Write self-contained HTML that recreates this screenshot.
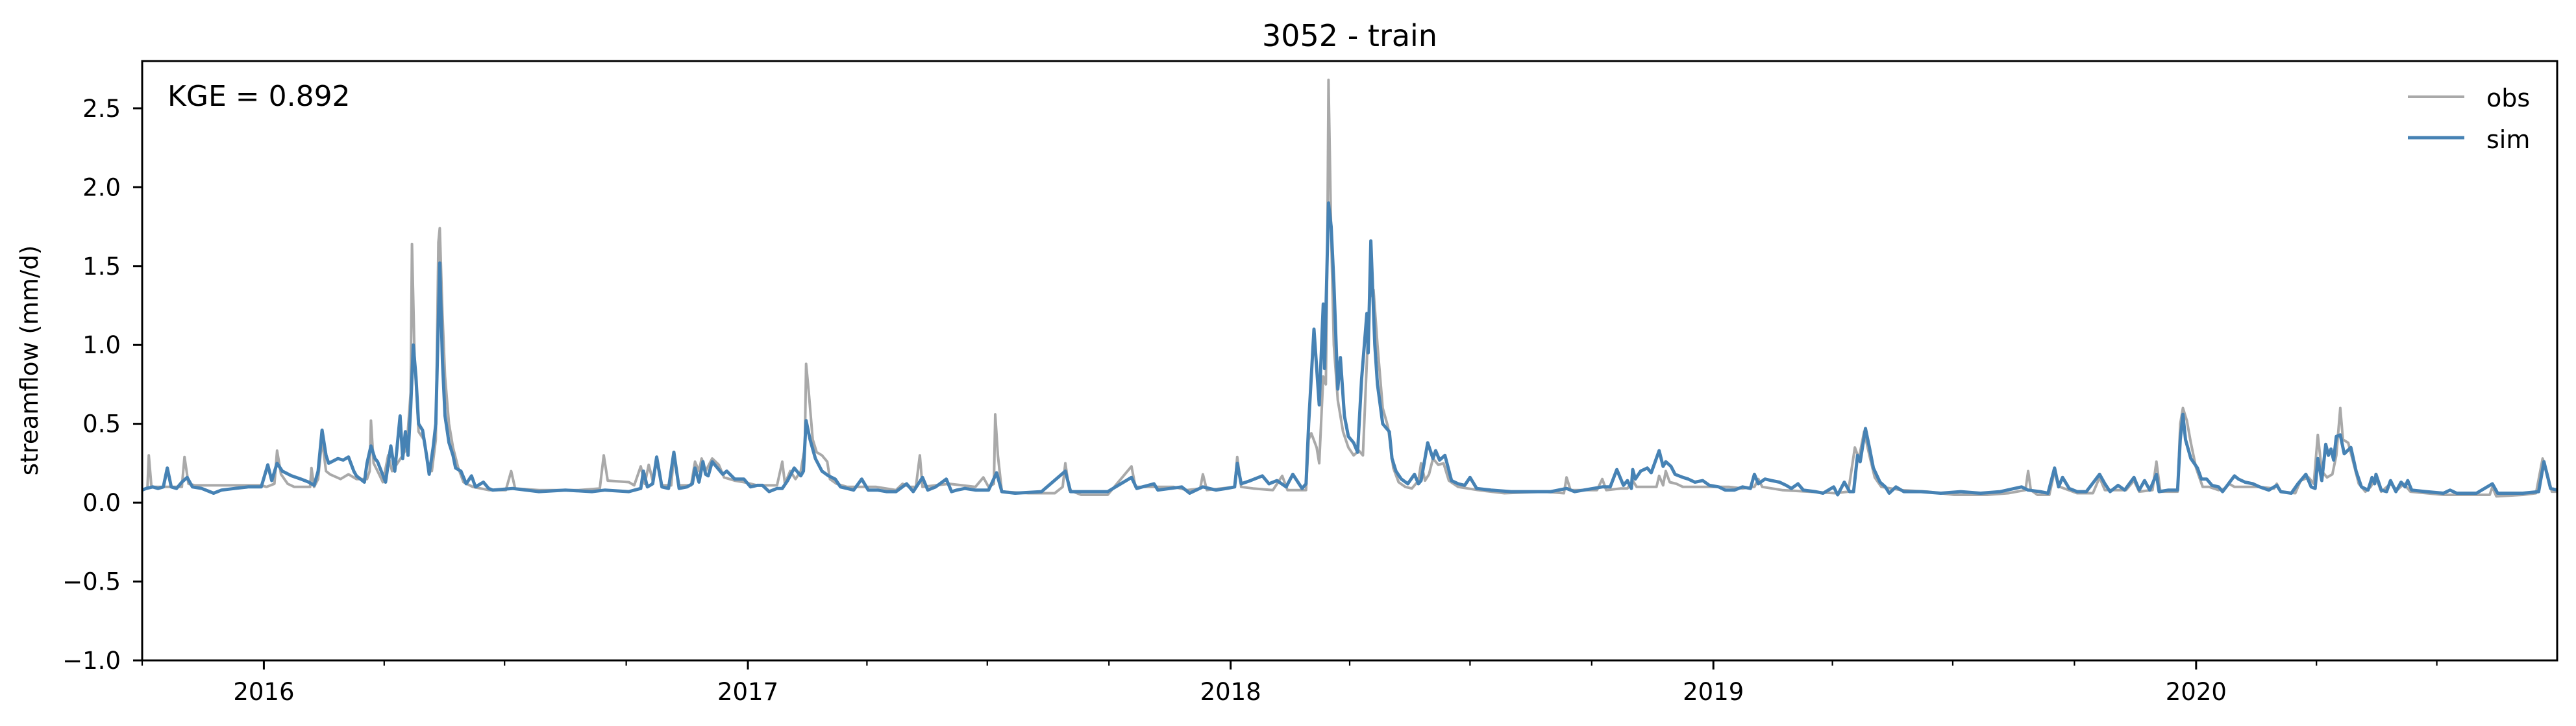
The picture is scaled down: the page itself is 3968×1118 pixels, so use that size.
<!DOCTYPE html>
<html><head><meta charset="utf-8"><style>
html,body{margin:0;padding:0;background:#fff;}
svg{display:block;font-family:"DejaVu Sans","Liberation Sans",sans-serif;}
</style></head><body>
<svg id="chart" width="3968" height="1118" viewBox="0 0 3968 1118" xmlns="http://www.w3.org/2000/svg">
<rect x="0" y="0" width="3968" height="1118" fill="#fff"/>
<text x="2079" y="71" font-size="46" text-anchor="middle">3052 - train</text>
<g id="plot"></g>
<g id="axes"></g>
<text x="258" y="163" font-size="44">KGE = 0.892</text>
<text transform="translate(58,555) rotate(-90)" font-size="37" text-anchor="middle">streamflow (mm/d)</text>
<g>
  <line x1="3709" y1="149" x2="3796" y2="149" stroke="#a9a9a9" stroke-width="4"/>
  <text x="3830" y="164" font-size="38">obs</text>
  <line x1="3709" y1="212" x2="3796" y2="212" stroke="#4682b4" stroke-width="5"/>
  <text x="3830" y="228" font-size="38">sim</text>
</g>
</svg>
<script>
// days since 2015-10-01
const simDays = [0,3,8,12,16,19,22,26,30,34,38,45,54,60,70,80,90,95,98,102,106,113,120,126,130,133,136,139,141,148,152,156,160,162,168,170,173,176,178,184,188,191,195,197,199,201,203,205,207,209,212,215,217,220,222,225,227,229,232,235,237,241,245,249,252,258,262,265,280,300,320,340,350,368,
377,379,382,386,389,393,398,402,406,412,416,418,421,424,426,428,431,435,439,442,448,455,460,465,469,474,480,484,488,493,498,500,502,505,509,514,519,524,528,533,538,544,549,556,563,570,578,583,590,594,600,608,612,616,622,630,640,646,650,660,680,698,702,715,730,
748,752,765,768,786,792,802,812,820,826,828,831,838,847,852,858,865,870,877,880,882,886,890,893,894,897,899,901,904,906,909,912,916,919,922,926,927,929,932,934,938,943,945,948,952,957,962,965,967,972,976,978,981,985,990,995,1000,1004,1009,1020,1035,1050,1065,1077,1083,
1090,1104,1110,1115,1120,1123,1126,1127,1129,1133,1138,1141,1147,1150,1152,1156,1159,1165,1169,1174,1180,1185,1192,1197,1204,1210,1216,1219,1222,1227,1232,1238,1243,1247,1252,1256,1265,1271,1279,1282,1287,1291,1294,1297,1299,1303,1306,1309,1314,1318,1321,1326,1332,1345,1360,1375,1390,1405,1421,1426,1435,1441,1446,1449,1452,1457,1463,
1470,1480,1484,1488,1494,1499,1506,1510,1514,1518,1523,1525,1532,1539,1541,1543,1545,1549,1554,1557,1561,1565,1570,1573,1582,1585,1590,1596,1601,1608,1614,1617,1625,1630,1636,1640,1643,1645,1648,1651,1653,1655,1657,1659,1662,1665,1670,1674,1678,1683,1686,1688,1689,1693,1697,1700,1704,1708,1711,1713,1716,1727,1740,1745,1750,1765,1777,1781,1800,1812,1816,1821,1826];
const simVals = [.08,.09,.1,.09,.1,.22,.1,.09,.13,.16,.1,.09,.06,.08,.09,.1,.1,.24,.14,.25,.2,.17,.15,.13,.11,.2,.46,.3,.25,.28,.27,.29,.2,.17,.13,.25,.36,.28,.26,.13,.36,.2,.55,.28,.45,.3,.6,1.0,.8,.5,.46,.3,.18,.35,.5,1.52,.9,.55,.38,.3,.22,.2,.12,.17,.1,.13,.09,.08,.09,.07,.08,.07,.08,.07,
.09,.2,.1,.12,.29,.1,.09,.32,.09,.1,.12,.22,.13,.26,.18,.17,.26,.22,.18,.2,.15,.15,.1,.11,.11,.07,.09,.09,.14,.22,.17,.2,.52,.4,.28,.2,.17,.15,.1,.09,.08,.15,.08,.08,.07,.07,.12,.07,.16,.08,.1,.15,.07,.08,.09,.08,.08,.19,.07,.06,.07,.2,.07,.07,.07,
.16,.09,.12,.08,.1,.06,.1,.08,.09,.1,.25,.12,.14,.17,.12,.14,.1,.18,.09,.12,.5,1.1,.62,1.26,.85,1.9,1.75,1.4,.72,.92,.55,.42,.38,.32,.78,1.2,.95,1.66,1.0,.75,.5,.45,.28,.2,.15,.12,.18,.12,.14,.38,.28,.33,.27,.3,.14,.12,.11,.16,.09,.08,.07,.07,.07,.09,.07,
.08,.1,.1,.21,.11,.14,.09,.21,.15,.2,.22,.19,.33,.23,.26,.23,.18,.16,.15,.13,.14,.11,.1,.08,.08,.1,.09,.18,.12,.15,.14,.13,.11,.09,.12,.08,.07,.06,.1,.05,.13,.07,.07,.3,.26,.47,.35,.22,.13,.1,.06,.1,.07,.07,.06,.07,.06,.07,.1,.08,.07,.06,.22,.1,.16,.09,.07,
.07,.18,.12,.07,.11,.08,.16,.08,.14,.08,.18,.07,.08,.08,.4,.56,.4,.28,.22,.15,.15,.11,.1,.07,.17,.15,.13,.12,.1,.08,.11,.07,.06,.12,.18,.1,.09,.28,.14,.37,.3,.34,.27,.42,.43,.31,.35,.2,.1,.08,.16,.12,.18,.08,.07,.14,.07,.13,.1,.14,.08,.07,.06,.08,.06,.06,.12,.06,.06,.07,.26,.09,.08];
const obsDays = [0,4,5,7,20,30,32,35,40,90,94,100,102,105,110,115,127,128,130,133,136,139,142,150,156,162,170,172,173,175,178,182,186,189,193,197,200,203,204,206,209,213,216,219,222,224,225,227,229,232,235,239,243,250,256,262,275,279,282,300,330,346,349,352,368,372,
377,380,383,386,389,393,400,402,406,415,418,421,423,426,431,436,440,448,455,465,480,484,486,490,494,498,501,502,504,507,510,514,518,520,525,533,545,555,570,575,580,585,588,590,600,610,620,630,636,640,644,645,647,650,670,690,696,698,701,710,730,
748,751,765,780,790,800,802,805,826,828,831,840,855,862,866,880,882,884,888,890,893,895,896,897,899,901,904,908,912,916,920,923,926,928,931,934,938,942,946,950,955,960,965,967,970,973,976,980,984,988,995,1010,1030,1060,1075,1077,1080,
1090,1100,1104,1107,1118,1123,1127,1130,1145,1147,1150,1152,1155,1160,1165,1180,1200,1210,1219,1222,1225,1240,1260,1280,1290,1295,1298,1302,1306,1310,1315,1330,1350,1370,1395,1411,1424,1426,1428,1433,1442,1446,1450,1463,
1475,1480,1484,1500,1506,1510,1520,1523,1526,1539,1541,1543,1546,1549,1553,1558,1563,1570,1575,1578,1582,1600,1612,1614,1617,1628,1632,1638,1642,1645,1648,1652,1656,1659,1662,1664,1668,1672,1676,1681,1685,1689,1693,1700,1705,1710,1715,1740,1760,1775,1777,1780,1800,1810,1815,1818,1822,1826];
const obsVals = [.08,.09,.3,.1,.1,.1,.29,.12,.11,.11,.1,.12,.33,.18,.12,.1,.1,.22,.1,.15,.4,.2,.18,.15,.18,.15,.15,.2,.52,.25,.2,.13,.3,.2,.25,.3,.35,.7,1.64,.9,.45,.4,.25,.2,.4,1.65,1.74,1.2,.8,.5,.35,.22,.13,.1,.09,.08,.08,.2,.09,.08,.08,.09,.3,.14,.13,.11,
.23,.12,.24,.14,.26,.11,.11,.3,.11,.11,.26,.2,.28,.2,.28,.24,.16,.14,.13,.11,.11,.26,.12,.2,.15,.2,.35,.88,.7,.4,.32,.3,.26,.15,.12,.1,.1,.1,.08,.12,.1,.1,.3,.1,.11,.12,.11,.1,.16,.1,.12,.56,.3,.07,.06,.06,.1,.25,.08,.05,.05,
.23,.1,.1,.1,.08,.09,.18,.08,.1,.29,.1,.09,.08,.17,.08,.08,.4,.44,.35,.25,.8,.75,1.5,2.68,1.7,1.0,.65,.45,.35,.3,.33,.3,.9,1.3,1.35,1.0,.6,.48,.22,.13,.1,.09,.14,.25,.14,.18,.28,.24,.25,.14,.1,.08,.06,.07,.06,.16,.08,
.08,.08,.15,.08,.09,.09,.14,.1,.1,.17,.11,.2,.13,.12,.1,.1,.1,.09,.1,.15,.1,.08,.07,.06,.07,.35,.28,.45,.3,.16,.1,.08,.07,.05,.05,.06,.08,.2,.08,.05,.05,.2,.1,.06,
.06,.16,.08,.08,.14,.07,.08,.26,.07,.07,.5,.6,.52,.38,.22,.1,.1,.08,.09,.12,.1,.1,.09,.12,.07,.06,.14,.16,.12,.43,.2,.16,.18,.3,.6,.4,.38,.25,.12,.07,.1,.16,.07,.12,.08,.12,.07,.05,.05,.05,.1,.04,.05,.06,.28,.2,.07,.07];
const yTickVals = [-1.0,-0.5,0.0,0.5,1.0,1.5,2.0,2.5];
const yTickLabels = ["\u22121.0","\u22120.5","0.0","0.5","1.0","1.5","2.0","2.5"];
const xTickYears = [2016,2017,2018,2019,2020];

const L=219,R=3939,T=94,B=1017, YMIN=-1, YMAX=2.8, NDAYS=1826;
const NS='http://www.w3.org/2000/svg';
const start=Date.UTC(2015,9,1);
function dayOf(y,m,d){return Math.round((Date.UTC(y,m,d)-start)/86400000);}
function xs(d){return L+d/NDAYS*(R-L);}
function ys(v){return B-(v-YMIN)/(YMAX-YMIN)*(B-T);}
function mk(tag,attrs,parent){const e=document.createElementNS(NS,tag);for(const k in attrs)e.setAttribute(k,attrs[k]);parent.appendChild(e);return e;}
const plot=document.getElementById('plot'), axes=document.getElementById('axes');
function series(days,vals,color,w,name){
  let d='';for(let i=0;i<days.length;i++){d+=(i?'L':'M')+xs(days[i]).toFixed(1)+' '+ys(vals[i]).toFixed(1);}
  const p=mk('path',{d:d,fill:'none',stroke:color,'stroke-width':w,'stroke-linejoin':'round'},plot);
  
  
}
series(obsDays,obsVals,'#a9a9a9',4,'obs-line');
series(simDays,simVals,'#4682b4',5,'sim-line');
yTickVals.forEach((v,i)=>{
  const y=ys(v);
  const t=mk('line',{x1:L-14,x2:L,y1:y,y2:y,stroke:'#000','stroke-width':3},axes);
  
  
  const tx=mk('text',{x:L-33,y:y+13,'font-size':37,'text-anchor':'end'},axes);
  tx.textContent=yTickLabels[i];
  
  
});
xTickYears.forEach(yr=>{
  const x=xs(dayOf(yr,0,1));
  const t=mk('line',{x1:x,x2:x,y1:B,y2:B+14,stroke:'#000','stroke-width':3},axes);
  
  
  const tx=mk('text',{x:x,y:1078,'font-size':37,'text-anchor':'middle'},axes);
  tx.textContent=String(yr);
  
  
});
for(let yr=2015;yr<=2020;yr++){[3,6,9].forEach(m=>{
  const d=dayOf(yr,m,1); if(d<0||d>NDAYS)return;
  const x=xs(d);
  const t=mk('line',{x1:x,x2:x,y1:B,y2:B+8,stroke:'#000','stroke-width':2.2},axes);
  
  
});}
const sp=mk('rect',{x:L,y:T,width:R-L,height:B-T,fill:'none',stroke:'#000','stroke-width':3},axes);


</script>
</body></html>
